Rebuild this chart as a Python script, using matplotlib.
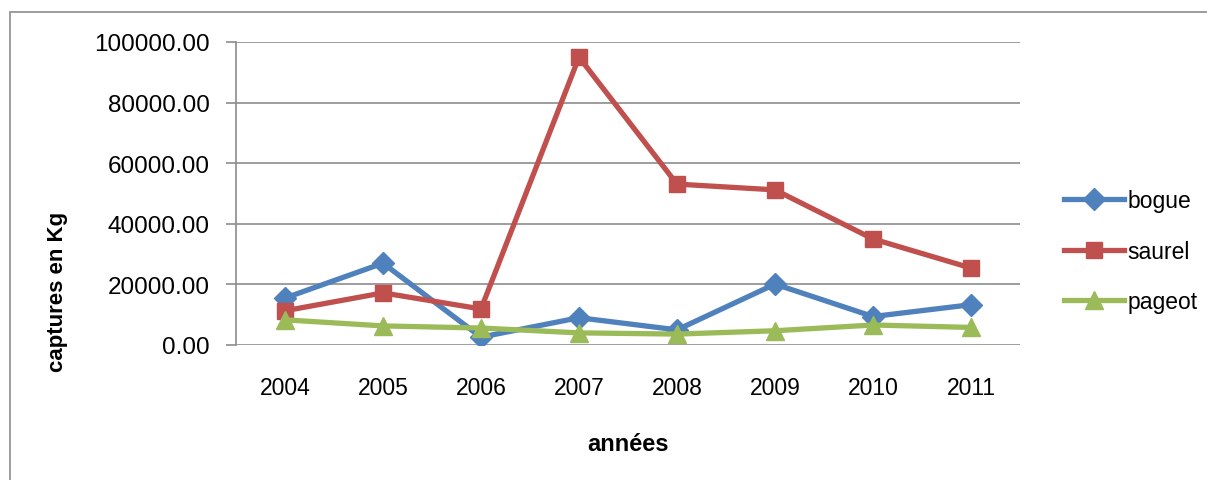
import matplotlib
matplotlib.use("Agg")
import matplotlib.pyplot as plt
from matplotlib.patches import Rectangle

# data (captures en Kg)
annees = ["2004", "2005", "2006", "2007", "2008", "2009", "2010", "2011"]
bogue = [15500, 27000, 2600, 9000, 5000, 20100, 9400, 13300]
saurel = [11300, 17200, 11900, 95000, 53100, 51200, 35000, 25400]
pageot = [8300, 6300, 5600, 4000, 3600, 4700, 6600, 5800]

plt.rcParams['font.family'] = ['Liberation Sans', 'DejaVu Sans']

fig = plt.figure(figsize=(12.07, 4.81), dpi=100)
# outer chart border (cut off at right and bottom like the screenshot)
fig.patches.append(Rectangle((10 / 1207, -0.1), 1.2, 1 - 13 / 481 + 0.1,
                             transform=fig.transFigure, fill=False,
                             edgecolor='#8c8c8c', linewidth=1.2))

ax = fig.add_axes([236 / 1207, 1 - 346 / 481, 784 / 1207, 303 / 481])
x = range(len(annees))
ax.plot(x, bogue, color='#4F81BD', linewidth=3.8, marker='D', markersize=11, label='bogue')
ax.plot(x, saurel, color='#C0504D', linewidth=3.8, marker='s', markersize=12, label='saurel')
ax.plot(x, pageot, color='#9BBB59', linewidth=3.8, marker='^', markersize=13, label='pageot')

ax.set_xlim(-0.5, len(annees) - 0.5)
ax.set_ylim(0, 100000)
ax.set_yticks(range(0, 100001, 20000))
ax.set_yticklabels(["%.2f" % v for v in range(0, 100001, 20000)], fontsize=17.5)
ax.set_xticks(list(x))
ax.set_xticklabels(annees, fontsize=16.5)
ax.tick_params(axis='x', length=0, pad=22)
ax.tick_params(axis='y', length=7, width=1.2, color='#8c8c8c', pad=12)
ax.yaxis.grid(True, color='#8c8c8c', linewidth=1.2)
ax.set_axisbelow(True)
for s in ['top', 'right', 'bottom']:
    ax.spines[s].set_visible(False)
ax.spines['left'].set_color('#8c8c8c')
ax.spines['left'].set_linewidth(1.2)

# y title sits lower than the axes centre, as in the original
fig.text(58 / 1207, 1 - 292 / 481, "captures en Kg", rotation=90, fontsize=16,
         fontweight='bold', ha='center', va='center')
ax.set_xlabel("années", fontsize=17, fontweight='bold', labelpad=24)

ax.legend(loc='center left', bbox_to_anchor=(1.03, 0.31), frameon=False,
          fontsize=16.5, handlelength=2.6, labelspacing=1.2, handletextpad=0.15)

fig.savefig("out.png", dpi=100)
